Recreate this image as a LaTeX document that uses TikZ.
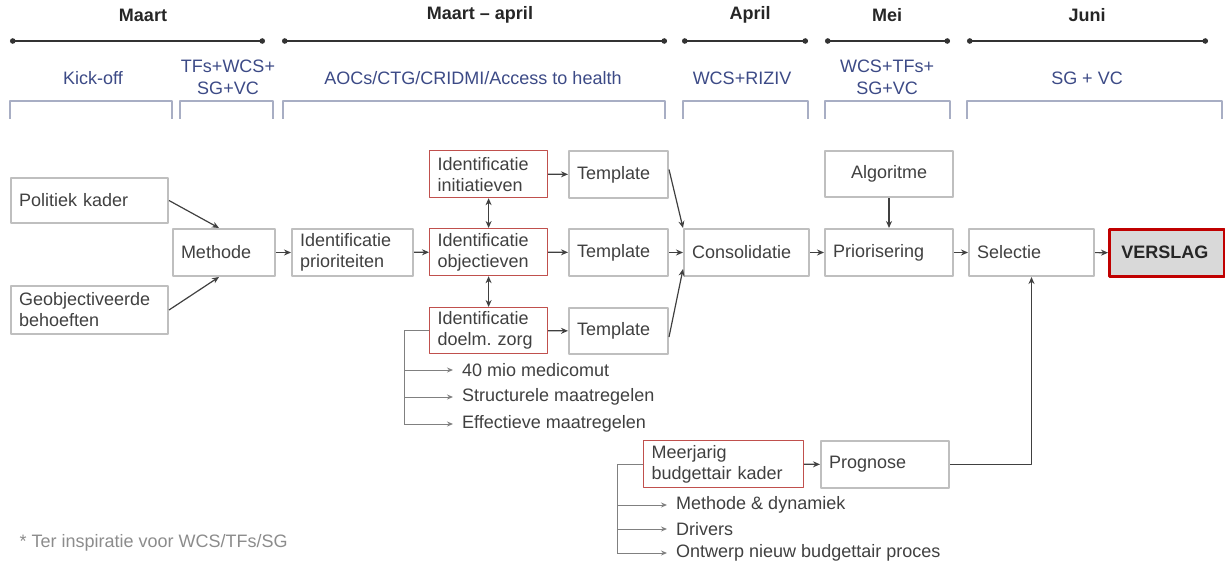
\documentclass[tikz,border=0pt]{standalone}
\usepackage{fontspec}
\setmainfont{Liberation Sans}
\usetikzlibrary{arrows.meta}
\definecolor{boxgray}{HTML}{BFBFBF}
\definecolor{boxred}{HTML}{C0504D}
\definecolor{vsred}{HTML}{C00000}
\definecolor{vsfill}{HTML}{D9D9D9}
\definecolor{phaseblue}{HTML}{3C4A86}
\definecolor{bracketgray}{HTML}{A8AEC4}
\definecolor{txtgray}{HTML}{404040}
\definecolor{linegray}{HTML}{808080}
\definecolor{notegray}{HTML}{8C8C8C}

\begin{document}
\begin{tikzpicture}[x=1pt,y=-1pt,>={Stealth[length=7pt,width=6pt]},line join=round,
  every node/.style={font=\fontsize{18}{21}\selectfont,text=txtgray},
  month/.style={font=\bfseries\fontsize{18}{21}\selectfont,text=black!85},
  phase/.style={font=\fontsize{18}{22}\selectfont,text=phaseblue,align=center},
  tline/.style={line width=1.3pt,black!80,{Circle[length=5.5pt]}-{Circle[length=5.5pt]}},
  brk/.style={line width=1.2pt,bracketgray},
  box/.style={draw=boxgray,line width=2pt,anchor=north west,align=left,
    inner xsep=8pt,inner ysep=0pt,minimum height=47pt},
  redbox/.style={box,draw=boxred,line width=1.2pt},
  vsbox/.style={box,draw=vsred,line width=2.6pt,fill=vsfill,inner xsep=12pt,
    font=\bfseries\fontsize{18}{21}\selectfont,text=black!85},
  arr/.style={->,line width=1.2pt,txtgray},
  dbl/.style={<->,line width=1.2pt,txtgray},
  subline/.style={line width=1pt,linegray},
  subarr/.style={subline,-{Stealth[length=6pt,width=5pt]}},
  item/.style={anchor=west,inner xsep=9pt,inner ysep=1pt},
  note/.style={anchor=west,text=notegray}]

\useasboundingbox (0,0) rectangle (1225,564);

%% ---------------- time line and phases ----------------
\node[month] (maart) at (143,15) {Maart};
\node[month] (maartapr) at (480,15) {Maart -- april};
\node[month] (april) at (750,15) {April};
\node[month] (mei) at (887,15) {Mei};
\node[month] (juni) at (1087,15) {Juni};
\draw[tline] (10,41) -- (265,41);
\draw[tline] (282,41) -- (667,41);
\draw[tline] (682,41) -- (808,41);
\draw[tline] (825,41) -- (950,41);
\draw[tline] (967,41) -- (1208,41);
%% who takes part
\node[phase] (kick) at (93,78) {Kick-off};
\node[phase] (tfs) at (228,77) {TFs+WCS+\\SG+VC};
\node[phase] (aocs) at (473,78) {AOCs/CTG/CRIDMI/Access to health};
\node[phase] (riziv) at (742,78) {WCS+RIZIV};
\node[phase] (wcs) at (887,77) {WCS+TFs+\\SG+VC};
\node[phase] (sgvc) at (1087,78) {SG + VC};
\draw[brk] (10,119) |- (172,101) -- (172,119);
\draw[brk] (180,119) |- (273,101) -- (273,119);
\draw[brk] (283,119) |- (665,101) -- (665,119);
\draw[brk] (683,119) |- (808,101) -- (808,119);
\draw[brk] (825,119) |- (950,101) -- (950,119);
\draw[brk] (967,119) |- (1222,101) -- (1222,119);

%% ---------------- the process boxes ----------------
\node[box,text width=141pt,minimum height=45pt] (pk) at (10,177) {Politiek kader};
\node[box,text width=141pt,minimum height=48pt] (geo) at (10,285) {Geobjectiveerde\\behoeften};
\node[box,text width=86pt] (meth) at (172,228) {Methode};
\node[box,text width=105pt] (prio) at (291,228) {Identificatie\\prioriteiten};
\node[redbox,text width=102pt] (init) at (429,150) {Identificatie\\initiatieven};
\node[redbox,text width=102pt] (obj) at (429,228) {Identificatie\\objectieven};
\node[redbox,text width=102pt,minimum height=46pt] (dz) at (429,307) {Identificatie\\doelm.\ zorg};
\node[box,text width=83pt] (tpla) at (568,150) {Template};
\node[box,text width=83pt] (tplb) at (568,228) {Template};
\node[box,text width=83pt,minimum height=46pt] (tplc) at (568,307) {Template};
\node[box,text width=109pt] (cons) at (683,228) {Consolidatie};
\node[box,text width=112pt,align=center,minimum height=46pt] (alg) at (824,150) {Algoritme};
\node[box,text width=112pt] (prior) at (824,228) {Priorisering};
\node[box,text width=109pt] (sel) at (968,228) {Selectie};
\node[vsbox,text width=91pt] (vs) at (1108,228) {VERSLAG};
\node[redbox,text width=144pt] (mbk) at (643,440) {Meerjarig\\budgettair kader};
\node[box,text width=112pt] (prog) at (820,440) {Prognose};

%% flow
\draw[arr] (pk.east) -- ([xshift=-5pt]meth.north);
\draw[arr] (geo.east) -- ([xshift=-5pt]meth.south);
\draw[arr] (meth) -- (prio);
\draw[arr] (prio) -- (obj);
\draw[dbl] (init) -- (obj);
\draw[dbl] (obj) -- (dz);
\draw[arr] (init) -- (tpla);
\draw[arr] (obj) -- (tplb);
\draw[arr] (dz) -- (tplc);
\draw[arr] ([yshift=5pt]tpla.east) -- (cons.north west);
\draw[arr] (tplb) -- (cons);
\draw[arr] ([yshift=-6pt]tplc.east) -- ([yshift=8pt]cons.south west);
\draw[arr] (cons) -- (prior);
\draw[arr] (alg) -- (prior);
\draw[arr] (prior) -- (sel);
\draw[arr] (sel) -- (vs);
\draw[arr] (mbk) -- (prog);
\draw[arr] (prog.east) -| (sel.south);

%% ---------------- what feeds the boxes ----------------
\node[item] (medi) at (453,370) {40 mio medicomut};
\node[item] (struc) at (453,397) {Structurele maatregelen};
\node[item] (effec) at (453,424) {Effectieve maatregelen};
\coordinate (dzturn) at ([xshift=-25pt]dz.west);
\draw[subline] (dz.west) -- (dzturn) -- (dzturn |- effec.west);
\draw[subarr] (dzturn |- medi.west) -- (medi.west);
\draw[subarr] (dzturn |- struc.west) -- (struc.west);
\draw[subarr] (dzturn |- effec.west) -- (effec.west);

\node[item] (dyn) at (667,505) {Methode \& dynamiek};
\node[item] (driv) at (667,529) {Drivers};
\node[item] (ontw) at (667,553) {Ontwerp nieuw budgettair proces};
\coordinate (mbkturn) at ([xshift=-26pt]mbk.west);
\draw[subline] (mbk.west) -- (mbkturn) -- (mbkturn |- ontw.west);
\draw[subarr] (mbkturn |- dyn.west) -- (dyn.west);
\draw[subarr] (mbkturn |- driv.west) -- (driv.west);
\draw[subarr] (mbkturn |- ontw.west) -- (ontw.west);

\node[note] (insp) at (16,543) {* Ter inspiratie voor WCS/TFs/SG};

\end{tikzpicture}
\end{document}
